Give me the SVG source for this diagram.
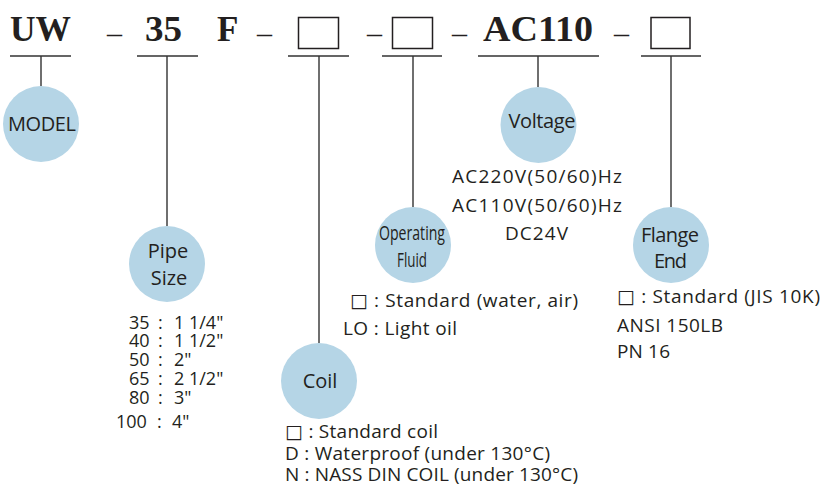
<svg xmlns="http://www.w3.org/2000/svg" width="822" height="491" viewBox="0 0 822 491">
<style>
.code{font-family:"Liberation Serif","Times New Roman",serif;font-weight:bold;font-size:35px;fill:#231f20}
.dash{font-family:"Liberation Serif","Times New Roman",serif;font-size:30px;fill:#231f20}
.box{fill:none;stroke:#231f20;stroke-width:1.5}
.ln{stroke:#333;stroke-width:1.4;fill:none}
.c{fill:#b5d5e6}
.lab{font-family:"Open Sans","Noto Sans","DejaVu Sans",sans-serif;font-size:20px;fill:#231f20;text-anchor:middle}
.txt{font-family:"Open Sans","Noto Sans","DejaVu Sans",sans-serif;font-size:19px;fill:#231f20}
.sz{font-family:"Open Sans","Noto Sans","DejaVu Sans",sans-serif;font-size:18px;fill:#231f20}
</style>
<rect width="822" height="491" fill="#ffffff"/>
<g id="code">
<text class="code" x="10" y="41" textLength="61" lengthAdjust="spacingAndGlyphs">UW</text>
<text class="dash" x="107" y="42.5">–</text>
<text class="code" x="145" y="41" textLength="37" lengthAdjust="spacingAndGlyphs">35</text>
<text class="code" x="217" y="41">F</text>
<text class="dash" x="257" y="42.5">–</text>
<rect class="box" x="298.5" y="17.5" width="40" height="31"/>
<text class="dash" x="367" y="42.5">–</text>
<rect class="box" x="392.5" y="17.5" width="40" height="31"/>
<text class="dash" x="452" y="42.5">–</text>
<text class="code" x="483" y="41" textLength="110" lengthAdjust="spacingAndGlyphs">AC110</text>
<text class="dash" x="614" y="42.5">–</text>
<rect class="box" x="651" y="17.5" width="39" height="31"/>
</g>
<g id="connectors">
<path class="ln" d="M10 56H71M41 56V86"/>
<path class="ln" d="M137 56H198M167 56V226"/>
<path class="ln" d="M288 56H349M319 56V343"/>
<path class="ln" d="M382 56H442M413 56V207"/>
<path class="ln" d="M478 56H599M538 56V87"/>
<path class="ln" d="M641 56H701M671 56V207"/>
</g>
<g id="model">
<circle class="c" cx="41" cy="124" r="38"/>
<text class="lab" x="42" y="131" textLength="68">MODEL</text>
</g>
<g id="pipe-size">
<circle class="c" cx="167" cy="264" r="38"/>
<text class="lab" x="168" y="258">Pipe</text>
<text class="lab" x="169" y="285">Size</text>
<g class="sz">
<text x="129" y="329">35<tspan x="158">:</tspan><tspan x="174">1 1/4"</tspan></text>
<text x="129" y="347">40<tspan x="158">:</tspan><tspan x="174">1 1/2"</tspan></text>
<text x="129" y="366">50<tspan x="158">:</tspan><tspan x="174">2"</tspan></text>
<text x="129" y="385">65<tspan x="158">:</tspan><tspan x="174">2 1/2"</tspan></text>
<text x="129" y="404">80<tspan x="158">:</tspan><tspan x="174">3"</tspan></text>
<text x="116" y="428">100<tspan x="157">:</tspan><tspan x="172">4"</tspan></text>
</g>
</g>
<g id="coil">
<circle class="c" cx="319" cy="381" r="38"/>
<text class="lab" x="320" y="388">Coil</text>
<g class="txt">
<text x="285" y="438" textLength="153">□ : Standard coil</text>
<text x="285" y="460" textLength="265">D : Waterproof (under 130°C)</text>
<text x="285" y="481" textLength="293">N : NASS DIN COIL (under 130°C)</text>
</g>
</g>
<g id="operating-fluid">
<circle class="c" cx="413" cy="245" r="38"/>
<text class="lab" x="412" y="240" font-size="21" textLength="66" lengthAdjust="spacingAndGlyphs">Operating</text>
<text class="lab" x="412" y="267" font-size="21" textLength="30" lengthAdjust="spacingAndGlyphs">Fluid</text>
<g class="txt">
<text x="350" y="307" textLength="228">□ : Standard (water, air)</text>
<text x="343" y="335" textLength="114">LO : Light oil</text>
</g>
</g>
<g id="voltage">
<circle class="c" cx="538.5" cy="125" r="38"/>
<text class="lab" x="542" y="128" textLength="67">Voltage</text>
<g class="txt" text-anchor="middle">
<text x="537" y="183" textLength="170">AC220V(50/60)Hz</text>
<text x="537" y="212" textLength="170">AC110V(50/60)Hz</text>
<text x="536.5" y="240" textLength="63">DC24V</text>
</g>
</g>
<g id="flange-end">
<circle class="c" cx="671" cy="245" r="38"/>
<text class="lab" x="670" y="242" textLength="58">Flange</text>
<text class="lab" x="670.5" y="268" textLength="33">End</text>
<g class="txt">
<text x="617" y="303" textLength="203">□ : Standard (JIS 10K)</text>
<text x="617" y="332" textLength="106">ANSI 150LB</text>
<text x="617" y="358" textLength="53">PN 16</text>
</g>
</g>
</svg>
